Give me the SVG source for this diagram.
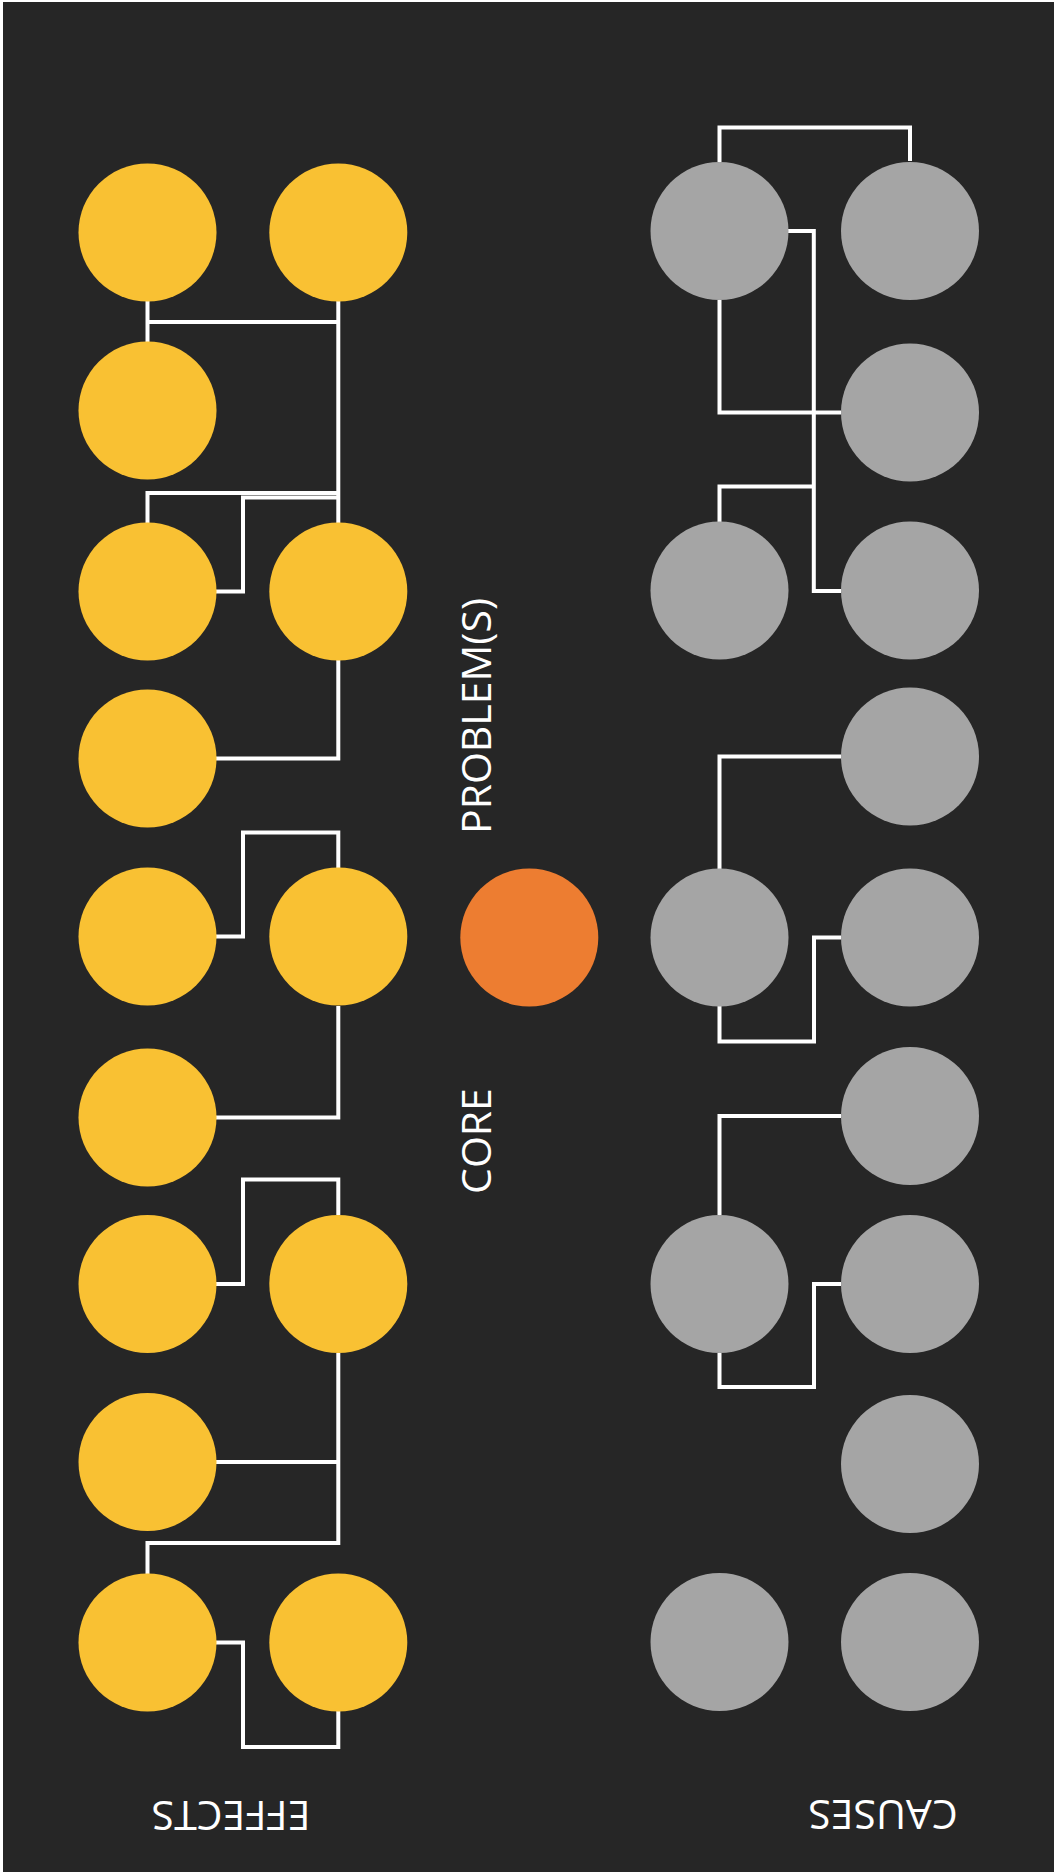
<svg xmlns="http://www.w3.org/2000/svg" width="1054" height="1872" viewBox="0 0 1054 1872">
<style>
.eff{fill:#F9C133}
.cau{fill:#A5A5A5}
.core{fill:#ED7D31}
.lbl{fill:#FFFFFF;font-family:"Open Sans","Liberation Sans",sans-serif;font-size:41px;text-anchor:middle}
.conn polyline{fill:none;stroke:#FFFFFF;stroke-width:4;stroke-linejoin:miter}
</style>
<rect x="0" y="0" width="1054" height="1872" fill="#FFFFFF"/>
<rect x="3" y="2" width="1051" height="1870" fill="#262626"/>

<g id="connectors" class="conn">
  <!-- effects -->
  <polyline points="147.5,301 147.5,342"/>
  <polyline points="147.5,322 338.3,322"/>
  <polyline points="338.3,301 338.3,523"/>
  <polyline points="147.5,523 147.5,493 338.3,493"/>
  <polyline points="216,591.5 243,591.5 243,497.5 338.3,497.5"/>
  <polyline points="338.3,660 338.3,758.5 216,758.5"/>
  <polyline points="216,936.5 243,936.5 243,832.5 338.3,832.5 338.3,868"/>
  <polyline points="338.3,1006 338.3,1117.5 216,1117.5"/>
  <polyline points="216,1284 243,1284 243,1179.5 338.3,1179.5 338.3,1215"/>
  <polyline points="338.3,1353 338.3,1543 147.5,1543 147.5,1574"/>
  <polyline points="216,1462 338.3,1462"/>
  <polyline points="216,1642.5 243,1642.5 243,1747 338.3,1747 338.3,1711"/>
  <!-- causes -->
  <polyline points="719.5,162 719.5,127.5 910,127.5 910,161"/>
  <polyline points="788,231 813.8,231 813.8,591 841,591"/>
  <polyline points="719.5,300 719.5,412.5 841,412.5"/>
  <polyline points="719.5,522 719.5,486.5 813.8,486.5"/>
  <polyline points="841,756.5 719.5,756.5 719.5,869"/>
  <polyline points="841,937.5 814,937.5 814,1041.5 719.5,1041.5 719.5,1006"/>
  <polyline points="841,1116 719.5,1116 719.5,1215"/>
  <polyline points="841,1284 814,1284 814,1387 719.5,1387 719.5,1353"/>
</g>

<g id="effects">
  <circle id="e1a" class="eff" cx="147.5" cy="232.5" r="69"/>
  <circle id="e1b" class="eff" cx="338.3" cy="232.5" r="69"/>
  <circle id="e2a" class="eff" cx="147.5" cy="410.5" r="69"/>
  <circle id="e3a" class="eff" cx="147.5" cy="591.5" r="69"/>
  <circle id="e3b" class="eff" cx="338.3" cy="591.5" r="69"/>
  <circle id="e4a" class="eff" cx="147.5" cy="758.5" r="69"/>
  <circle id="e5a" class="eff" cx="147.5" cy="936.5" r="69"/>
  <circle id="e5b" class="eff" cx="338.3" cy="936.5" r="69"/>
  <circle id="e6a" class="eff" cx="147.5" cy="1117.5" r="69"/>
  <circle id="e7a" class="eff" cx="147.5" cy="1284" r="69"/>
  <circle id="e7b" class="eff" cx="338.3" cy="1284" r="69"/>
  <circle id="e8a" class="eff" cx="147.5" cy="1462" r="69"/>
  <circle id="e9a" class="eff" cx="147.5" cy="1642.5" r="69"/>
  <circle id="e9b" class="eff" cx="338.3" cy="1642.5" r="69"/>
</g>

<g id="core-problem">
  <circle class="core" cx="529.3" cy="937.5" r="69"/>
</g>

<g id="causes">
  <circle id="c1a" class="cau" cx="719.5" cy="231" r="69"/>
  <circle id="c1b" class="cau" cx="910" cy="231" r="69"/>
  <circle id="c2b" class="cau" cx="910" cy="412.5" r="69"/>
  <circle id="c3a" class="cau" cx="719.5" cy="590.5" r="69"/>
  <circle id="c3b" class="cau" cx="910" cy="590.5" r="69"/>
  <circle id="c4b" class="cau" cx="910" cy="756.5" r="69"/>
  <circle id="c5a" class="cau" cx="719.5" cy="937.5" r="69"/>
  <circle id="c5b" class="cau" cx="910" cy="937.5" r="69"/>
  <circle id="c6b" class="cau" cx="910" cy="1116" r="69"/>
  <circle id="c7a" class="cau" cx="719.5" cy="1284" r="69"/>
  <circle id="c7b" class="cau" cx="910" cy="1284" r="69"/>
  <circle id="c8b" class="cau" cx="910" cy="1464" r="69"/>
  <circle id="c9a" class="cau" cx="719.5" cy="1642" r="69"/>
  <circle id="c9b" class="cau" cx="910" cy="1642" r="69"/>
</g>

<g id="labels">
  <text class="lbl" transform="translate(491,716) rotate(-90)">PROBLEM(S)</text>
  <text class="lbl" transform="translate(491,1141) rotate(-90)">CORE</text>
  <text class="lbl" transform="translate(231,1801) rotate(180)">EFFECTS</text>
  <text class="lbl" transform="translate(883,1800) rotate(180)">CAUSES</text>
</g>
</svg>
